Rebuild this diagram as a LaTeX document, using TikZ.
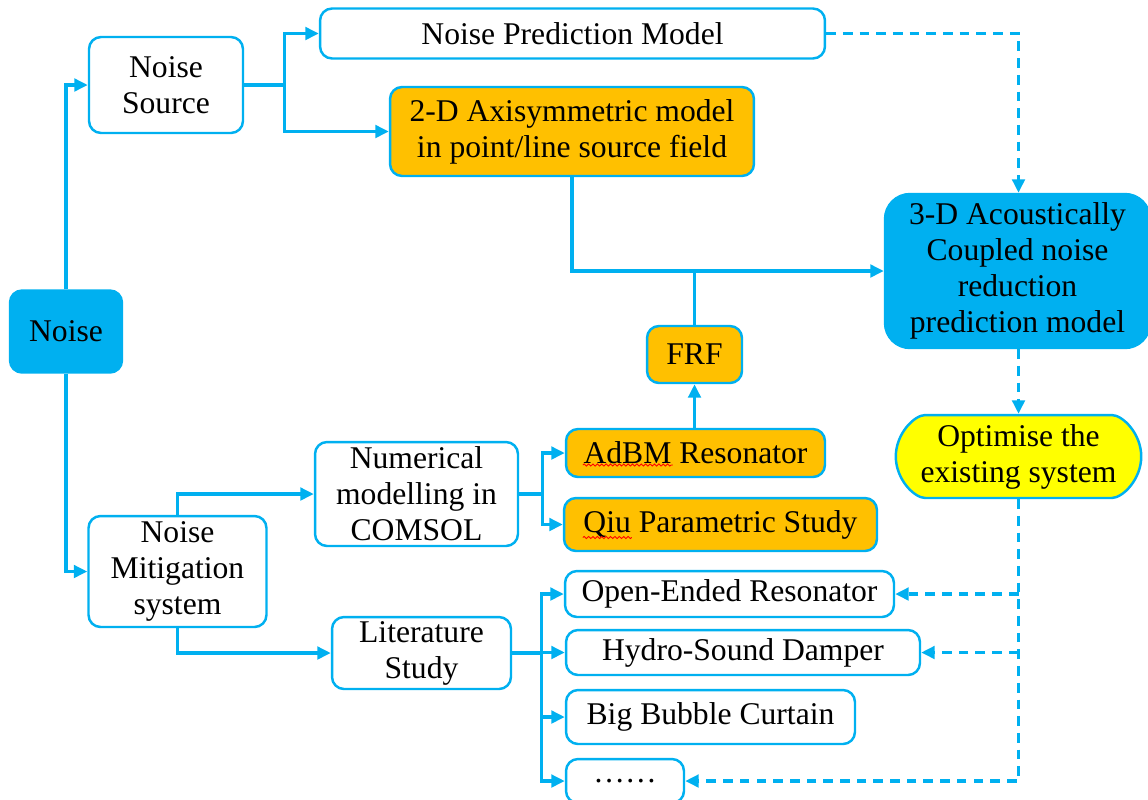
\documentclass[tikz,border=0pt]{standalone}
\usepackage{fontspec}
\setmainfont{Liberation Serif}
\usetikzlibrary{shapes.misc, arrows.meta, positioning, decorations.pathmorphing}
\definecolor{cBlue}{RGB}{0,176,240}
\definecolor{cOrange}{RGB}{255,192,0}
\definecolor{cYellow}{RGB}{255,255,0}

\begin{document}
\begin{tikzpicture}[x=0.02cm, y=-0.02cm,
            box/.style={draw=cBlue, line width=1.4pt, fill=white, rounded corners=0.24cm, align=center,
                inner sep=1pt, font=\fontsize{18}{20.5}\selectfont},
            hot/.style={box, fill=cOrange},
            blu/.style={box, fill=cBlue},
            ln/.style={draw=cBlue, line width=1.9pt, -{Triangle[length=0.27cm, width=0.25cm]}},
            dsh/.style={ln, dash pattern=on 5.5pt off 4pt},
            wave/.style={draw=red, line width=0.5pt, decorate, decoration={snake, amplitude=0.6pt, segment length=2.5pt}}]
            \useasboundingbox (0,0) rectangle (1148,799);
            \node[blu, minimum width=2.24cm, minimum height=1.64cm] (noise) at (66,331.5) {Noise};
            \node[box, minimum width=3.08cm, minimum height=1.92cm] (src) at (166,85) {Noise\\Source};
            \node[box, minimum width=3.56cm, minimum height=2.22cm] (mit) at (177.5,571.5) {Noise\\Mitigation\\system};
            \node[box, minimum width=10.1cm, minimum height=1.0cm] (npm) at (572.5,33.5) {Noise Prediction Model};
            \node[hot, minimum width=7.28cm, minimum height=1.78cm] (axi) at (572,131.5) {2-D Axisymmetric model\\in point/line source field};
            \node[hot, minimum width=1.9cm, minimum height=1.14cm] (frf) at (694.5,354.5) {FRF};
            \node[blu, rounded corners=0.5cm, minimum width=5.3cm, minimum height=3.08cm] (acou) at (1017.5,271)
                {3-D Acoustically\\Coupled noise\\reduction\\prediction model};
            \node[box, rounded rectangle, fill=cYellow, minimum width=4.98cm, minimum height=1.66cm] (opt) at (1018.5,456.5)
                {Optimise the\\existing system};
            \node[box, minimum width=4.06cm, minimum height=2.08cm] (num) at (416.5,494) {Numerical\\modelling in\\COMSOL};
            \node[box, minimum width=3.58cm, minimum height=1.44cm] (lit) at (421.5,653) {Literature\\Study};
            \node[hot, minimum width=5.18cm, minimum height=0.96cm] (adbm) at (695.5,453) {AdBM Resonator};
            \node[hot, minimum width=6.26cm, minimum height=1.06cm] (qiu) at (720.5,524.5) {Qiu Parametric Study};
            \node[box, minimum width=6.58cm, minimum height=0.92cm] (open) at (729.5,594) {Open-Ended Resonator};
            \node[box, minimum width=7.08cm, minimum height=0.9cm] (hydro) at (743,652.5) {Hydro-Sound Damper};
            \node[box, minimum width=5.78cm, minimum height=1.08cm] (bubble) at (710.5,717) {Big Bubble Curtain};
            \node[box, minimum width=2.36cm, minimum height=0.88cm] (dots) at (625,781) {\dots\dots};
            \draw[wave] (adbm.west) ++(18,12) -- ++(90,0);
            \draw[wave] (qiu.west) ++(20,13) -- ++(49,0);
            \draw[ln] (noise.north) |- (src.west);
            \draw[ln] (noise.south) |- (mit.west);
            \draw[ln] (src.east) -- ++(40,0) |- (npm.west);
            \draw[ln] (src.east) -- ++(40,0) |- (axi.west);
            \draw[ln] (axi.south) |- (acou.west);
            \draw[ln, -] (frf.north) -- (frf.north |- acou.west);
            \draw[ln] (frf.south |- adbm.north) -- (frf.south);
            \draw[ln] (mit.north) |- (num.west);
            \draw[ln] (mit.south) |- (lit.west);
            \draw[ln] (num.east) -- ++(23,0) |- (adbm.west);
            \draw[ln] (num.east) -- ++(23,0) |- (qiu.west);
            \foreach \t in {open, hydro, bubble, dots} { \draw[ln] (lit.east) -- ++(29,0) |- (\t.west); }
            \draw[dsh] (npm.east) -| (opt.north |- acou.north);
            \draw[dsh] (opt.north |- acou.south) -- (opt.north);
            \draw[dsh] (opt.south) |- (dots.east);
            \draw[dsh] (opt.south |- open.east) -- (open.east);
            \draw[dsh] (opt.south |- hydro.east) -- (hydro.east);
        \end{tikzpicture}
\end{document}
